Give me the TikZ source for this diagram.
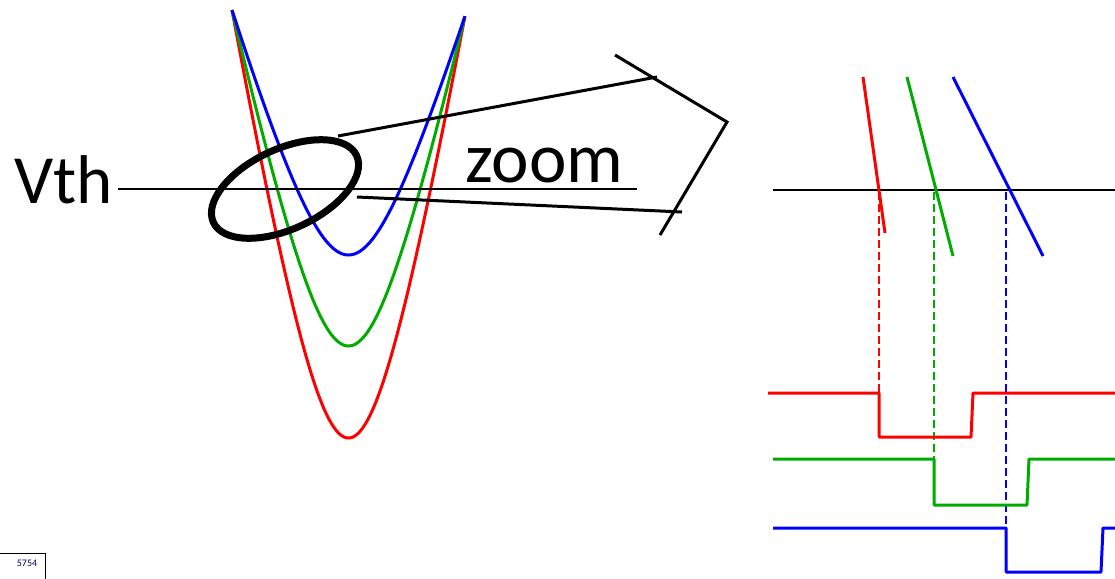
\documentclass[tikz,border=0pt]{standalone}
\usepackage{fontspec}
\setmainfont{Carlito}
\definecolor{cred}{RGB}{255,0,0}
\definecolor{cgreen}{RGB}{0,172,0}
\definecolor{cblue}{RGB}{0,0,255}
\begin{document}
\begin{tikzpicture}[x=1pt,y=-1pt,
  curve/.style={line width=3pt},
  sig/.style={line width=3pt, line join=round},
  guide/.style={line width=2.3pt, dash pattern=on 8pt off 4pt},
  blk/.style={line width=3pt, black},
  big/.style={font=\fontsize{69}{69}\selectfont, inner sep=0pt}]
\useasboundingbox (0,0) rectangle (1115,578);

% parabolas
\foreach \ymin/\col in {438/cred, 346/cgreen, 255/cblue}{
  \draw[curve, \col] plot[domain=-1:1, samples=121, smooth]
    ({348.5+116.5*\x}, {\ymin - (\ymin-13-3*\x)*(sqrt(1+4*\x*\x)-1)/1.23607});
}

% Vth line and labels
\coordinate (vthL) at (118,189);
\coordinate (vthR) at (637,189);
\draw[blk, line width=2.6pt] (vthL) -- (vthR);
\node[big, anchor=base east] (vth) at (113,203) {Vth};
\node[big, anchor=base west, font=\fontsize{71}{71}\selectfont] (zoomtxt) at (465,182) {zoom};

% ellipse
\draw[line width=7pt, shift={(285,189)}, rotate=25] (0,0) ellipse (79 and 40);

% zoom lines and bracket
\coordinate (zu0) at (338,136);
\coordinate (zu1) at (657,77);
\coordinate (zl0) at (357,197);
\coordinate (zl1) at (682,212);
\coordinate (b1) at (615,55);
\coordinate (b2) at (727,122);
\coordinate (b3) at (660,235);
\draw[blk] (zu0) -- (zu1);
\draw[blk] (zl0) -- (zl1);
\draw[blk, line join=miter] (b1) -- (b2) -- (b3);

% right zoomed view
\coordinate (hL) at (773,190);
\coordinate (hR) at (1115,190);
\draw[blk, line width=2.6pt] (hL) -- (hR);
\draw[curve, cred] (863,77) -- (885,233);
\draw[curve, cgreen] (907,77) -- (953,256);
\draw[curve, cblue] (953,77) -- (1043,256);

% dashed guides
\draw[guide, cred] (879,192) -- (879,393);
\draw[guide, cgreen] (934,192) -- (934,459);
\draw[guide, cblue] (1006,192) -- (1006,528);

% digital signals
\draw[sig, cred] (768,393) -- (879,393) -- (879,437) -- (971,437) -- (973,393) -- (1115,393);
\draw[sig, cgreen] (773,459) -- (934,459) -- (934,505) -- (1027,505) -- (1029,459) -- (1115,459);
\draw[sig, cblue] (773,528) -- (1006,528) -- (1006,572) -- (1101,572) -- (1103,528) -- (1115,528);

% small box bottom-left
\draw[line width=0.9pt] (-2,553) rectangle (45,582);
\node[inner sep=0pt, font=\fontsize{10}{10}\selectfont, text=blue!45!black] (tag) at (27,563) {5754};
\end{tikzpicture}
\end{document}
